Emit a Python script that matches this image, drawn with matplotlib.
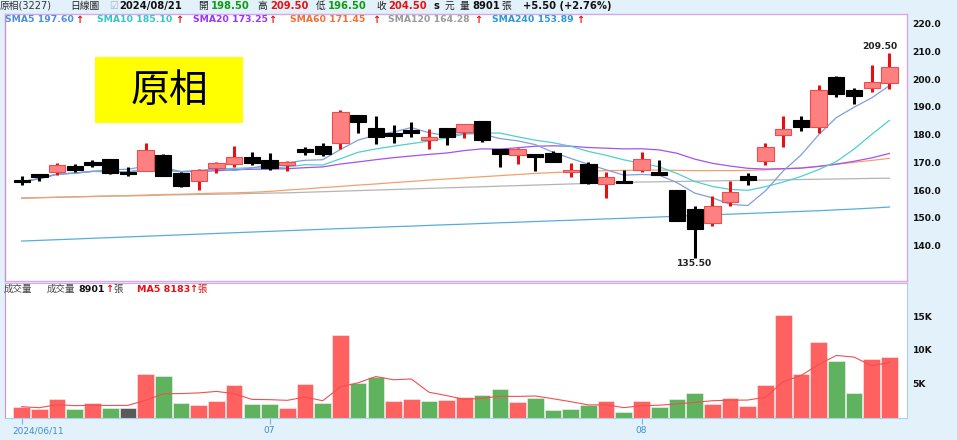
import numpy as np
import pandas as pd
import matplotlib
matplotlib.use("Agg")
import matplotlib.pyplot as plt
from matplotlib.patches import Rectangle

# ---------------- data ----------------
opens = [163.5, 165.3, 166.4, 168.8, 169.6, 171.1, 166.3, 167.0, 172.6, 166.0,
         163.2, 167.8, 169.4, 172.0, 170.8, 169.0, 174.3, 176.0, 176.9, 187.1,
         182.3, 180.2, 181.5, 178.5, 182.3, 180.8, 184.9, 174.8, 172.6, 172.8,
         173.5, 166.7, 169.4, 162.1, 163.0, 167.2, 166.0, 160.0, 153.0, 148.0,
         155.8, 165.1, 170.6, 179.9, 185.3, 182.6, 200.9, 196.1, 196.9, 198.5]
highs = [165.0, 165.5, 169.6, 169.4, 170.8, 171.3, 168.2, 177.1, 173.1, 166.6,
         167.5, 170.2, 176.0, 173.6, 173.5, 170.6, 175.6, 176.9, 188.9, 187.2,
         186.8, 183.5, 184.7, 181.9, 182.5, 184.0, 185.0, 174.9, 175.1, 172.9,
         174.1, 169.6, 170.0, 166.4, 167.2, 173.8, 170.8, 160.0, 154.3, 157.8,
         163.4, 166.0, 176.9, 186.7, 186.7, 197.9, 201.0, 196.7, 205.1, 209.5]
lows = [162.0, 163.4, 165.4, 166.4, 168.4, 165.8, 165.2, 166.8, 165.0, 161.0,
        160.0, 166.0, 168.4, 169.0, 167.2, 167.0, 172.6, 172.4, 174.7, 180.5,
        176.5, 177.1, 179.2, 174.7, 176.2, 178.9, 177.4, 168.4, 169.4, 167.0,
        170.0, 164.8, 162.1, 157.0, 162.6, 166.4, 165.5, 148.9, 135.5, 147.0,
        154.3, 161.8, 169.0, 175.4, 181.4, 180.5, 193.5, 190.9, 195.3, 196.5]
closes = [163.0, 165.2, 169.0, 167.2, 169.3, 166.0, 166.0, 174.4, 165.2, 161.4,
          167.2, 169.6, 172.0, 169.6, 167.8, 170.2, 174.1, 173.0, 188.1, 184.7,
          179.2, 179.7, 181.0, 178.8, 179.2, 183.8, 178.1, 173.0, 174.7, 172.4,
          170.0, 167.0, 162.4, 164.8, 162.8, 171.1, 165.8, 148.9, 145.9, 154.3,
          159.4, 163.6, 175.4, 181.9, 182.6, 196.1, 194.7, 194.0, 199.0, 204.5]
volumes = [1600, 1300, 2800, 1300, 2100, 1400, 1400, 6500, 6200, 2200,
           1900, 2500, 4800, 2000, 2000, 1400, 4900, 2100, 12200, 5100,
           6000, 2500, 2700, 2400, 2600, 3100, 3400, 4200, 2300, 2900,
           1100, 1200, 1800, 2400, 800, 2500, 1600, 2700, 3600, 2000,
           2900, 1700, 4800, 15100, 6500, 11100, 8400, 3600, 8700, 8901]
sma60 = [157.0, 157.2, 157.4, 157.5, 157.7, 157.9, 158.0, 158.2, 158.4, 158.5,
         158.7, 158.9, 159.0, 159.2, 159.5, 160.0, 160.4, 160.9, 161.3, 161.8,
         162.2, 162.7, 163.1, 163.6, 164.0, 164.4, 164.8, 165.2, 165.6, 166.0,
         166.3, 166.6, 166.8, 167.0, 167.1, 167.2, 167.2, 167.1, 167.0, 167.0,
         167.0, 167.1, 167.3, 167.6, 168.0, 168.6, 169.3, 170.0, 170.7, 171.45]
sma120 = [157.2, 157.3, 157.4, 157.6, 157.7, 157.8, 157.9, 158.0, 158.2, 158.3,
          158.4, 158.5, 158.6, 158.8, 158.9, 159.0, 159.2, 159.4, 159.6, 159.8,
          160.0, 160.2, 160.4, 160.6, 160.8, 161.0, 161.2, 161.4, 161.6, 161.8,
          162.0, 162.2, 162.4, 162.6, 162.8, 162.9, 163.0, 163.1, 163.2, 163.3,
          163.4, 163.5, 163.6, 163.7, 163.8, 163.9, 164.0, 164.1, 164.2, 164.28]
sma240 = [141.6, 141.85, 142.1, 142.35, 142.6, 142.85, 143.1, 143.35, 143.6, 143.85,
          144.1, 144.35, 144.6, 144.85, 145.1, 145.35, 145.6, 145.85, 146.1, 146.3,
          146.55, 146.8, 147.0, 147.25, 147.5, 147.7, 147.95, 148.2, 148.4, 148.65,
          148.9, 149.1, 149.35, 149.6, 149.8, 150.05, 150.3, 150.55, 150.8, 151.05,
          151.3, 151.55, 151.8, 152.05, 152.3, 152.55, 152.85, 153.15, 153.5, 153.89]
price_ticks = [140, 150, 160, 170, 180, 190, 200, 210, 220]
vol_ticks = [5000, 10000, 15000]
vol_tick_labels = ["5K", "10K", "15K"]
date_tick_idx = [0, 14, 35]
date_tick_labels = ["2024/06/11", "07", "08"]
legend_names = ["SMA5", "SMA10", "SMA20", "SMA60", "SMA120", "SMA240"]
legend_values = ["197.60", "185.10", "173.25", "171.45", "164.28", "153.89"]

# ---------------- figure ----------------
W, H = 957, 440
fig = plt.figure(figsize=(W / 100, H / 100), dpi=100)
BG = "#e3f1fb"
fig.patch.set_facecolor(BG)
CJK = ["DejaVu Sans", "Noto Sans CJK TC"]


def fx(x):
    return x / W


def fy(y):
    return 1 - y / H


def T(x, y, s, color="#222222", size=7, weight="normal", family=None, ha="left"):
    fig.text(fx(x), fy(y), s, color=color, fontsize=size, fontweight=weight,
             family=family or CJK, ha=ha, va="center")


L, R = 5, 907
ax = fig.add_axes([fx(L), fy(281), fx(R) - fx(L), fy(14) - fy(281)])
axv = fig.add_axes([fx(L), fy(417.5), fx(R) - fx(L), fy(283) - fy(417.5)])

n = len(closes)
x = np.arange(n)
o = np.array(opens); c = np.array(closes); h = np.array(highs); lo = np.array(lows)
up = c >= o

# moving averages from closes
cs = pd.Series(closes)
sma5 = cs.rolling(5, min_periods=1).mean()
sma10 = cs.rolling(10, min_periods=1).mean()
sma20 = cs.rolling(20, min_periods=1).mean()

line_cols = ["#7f9fdc", "#4fcfcf", "#a552ee", "#f3a06e", "#b4b4b4", "#56aedc"]
for series, col in zip([sma240, sma120, sma60, sma20, sma10, sma5], line_cols[::-1]):
    ax.plot(x, series, color=col, lw=0.9, zorder=2)

# candles
bw = 0.92
for i in range(n):
    if up[i]:
        wick, face, edge = "#e61010", "#ff8080", "#e85050"
    else:
        wick, face, edge = "#000000", "#000000", "#000000"
    ax.vlines(x[i], lo[i], h[i], color=wick, lw=2.2, zorder=3)
    bot = min(o[i], c[i])
    hh = max(abs(c[i] - o[i]), 1.0)
    if abs(c[i] - o[i]) < 1.0:
        bot = (o[i] + c[i]) / 2 - 0.5
    ax.bar(x[i], hh, bottom=bot, width=bw, color=face, edgecolor=edge,
           linewidth=0.8, zorder=4)

ax.set_xlim(-0.94, 49.99)
ax.set_ylim(127.2, 223.5)
ax.yaxis.tick_right()
ax.set_yticks(price_ticks)
ax.set_yticklabels([f"{v:.1f}" for v in price_ticks])
ax.tick_params(axis="y", length=0, pad=4, labelsize=6.6, labelcolor="#111111")
for lab in ax.get_yticklabels():
    lab.set_fontweight("bold")
ax.set_xticks([])
for s in ["top", "right", "bottom"]:
    ax.spines[s].set_color("#d6a8e6")
ax.spines["left"].set_color("#cf8fcf")
for s in ax.spines.values():
    s.set_linewidth(1.0)

# high / low annotations
imax = int(np.argmax(h)); imin = int(np.argmin(lo))
ax.annotate(f"{h[imax]:.2f}", xy=(x[imax], h[imax]), xytext=(-10, 6),
            textcoords="offset pixels", ha="center", va="center",
            fontsize=6.6, fontweight="bold", color="#222222")
ax.annotate(f"{lo[imin]:.2f}", xy=(x[imin], lo[imin]), xytext=(0, -6),
            textcoords="offset pixels", ha="center", va="center",
            fontsize=6.6, fontweight="bold", color="#222222")

# volume
v = np.array(volumes, dtype=float)
prev = np.concatenate([[c[0] - 1], c[:-1]])
vcols = np.where(c > prev, "#ff6161", np.where(c < prev, "#5fb35f", "#5a5a5a"))
axv.bar(x, v, width=0.94, color=vcols, edgecolor="#f4f4f4", linewidth=0.4, zorder=2)
ma5v = pd.Series(volumes).rolling(5, min_periods=1).mean()
axv.plot(x, ma5v, color="#f05050", lw=0.8, zorder=3)
axv.set_xlim(-0.94, 49.99)
axv.set_ylim(0, 19900)
axv.yaxis.tick_right()
axv.set_yticks(vol_ticks)
axv.set_yticklabels(vol_tick_labels)
axv.tick_params(axis="y", length=0, pad=4, labelsize=6.6, labelcolor="#111111")
for lab in axv.get_yticklabels():
    lab.set_fontweight("bold")
axv.set_xticks(date_tick_idx)
axv.set_xticklabels([])
axv.tick_params(axis="x", length=4, width=0.8, color="#7ab4e0", direction="out")
for idx, lab in zip(date_tick_idx, date_tick_labels):
    dx = -9 if idx == 0 else 0
    axv.annotate(lab, xy=(idx, 0), xycoords=("data", "axes fraction"),
                 xytext=(dx, -13), textcoords="offset pixels",
                 ha="left" if idx == 0 else "center", va="center",
                 fontsize=6.5, color="#3a8fd0")
axv.spines["left"].set_color("#cf8fcf")
axv.spines["top"].set_color("#d6a8e6")
axv.spines["right"].set_color("#a8d0ee")
axv.spines["bottom"].set_color("#a8d0ee")

# yellow label box
fig.patches.append(Rectangle((fx(95), fy(123)), fx(243) - fx(95), fy(57) - fy(123),
                             transform=fig.transFigure, facecolor="#ffff00",
                             edgecolor="none", zorder=5))
fig.text(fx(169), fy(91), "原相", fontsize=28, family=["Noto Sans CJK TC"],
         color="#000000", ha="center", va="center", zorder=6)

# header
hy = 6
T(0, hy, "原相(3227)", "#333333", 7)
T(70, hy, "日線圖", "#222222", 7)
T(109, hy, "☑", "#9fb8d0", 7)
T(119, hy, "2024/08/21", "#111111", 7.2, "bold")
T(198, hy, "開", "#222222", 7)
T(211, hy, "198.50", "#119a11", 7.2, "bold")
T(257, hy, "高", "#222222", 7)
T(270, hy, "209.50", "#e81111", 7.2, "bold")
T(316, hy, "低", "#222222", 7)
T(328, hy, "196.50", "#119a11", 7.2, "bold")
T(376, hy, "收", "#222222", 7)
T(388, hy, "204.50", "#e81111", 7.2, "bold")
T(433, hy, "s", "#111111", 7.2, "bold")
T(445, hy, "元", "#222222", 7)
T(460, hy, "量", "#222222", 7)
T(472, hy, "8901", "#111111", 7.2, "bold")
T(501, hy, "張", "#222222", 7)
T(523, hy, "+5.50 (+2.76%)", "#111111", 7.2, "bold")

# SMA legend
leg_x = [5, 97, 193, 290, 388, 492]
arrow_x = [75, 175, 268, 372, 474, 576]
leg_cols = ["#4a8fe0", "#33c6c6", "#9933ff", "#f07030", "#9a9a9a", "#2b9ad6"]
for lx, axx, nm, val, col in zip(leg_x, arrow_x, legend_names, legend_values, leg_cols):
    T(lx, 20, f"{nm} {val}", col, 6.7, "bold")
    T(axx, 20, "↑", "#e81111", 7, "bold")

# volume legend
T(4, 289, "成交量", "#444444", 6.8)
T(47, 289, "成交量", "#444444", 6.8)
T(78, 289, "8901", "#111111", 6.8, "bold")
T(105, 289, "↑", "#e81111", 7, "bold")
T(113, 289, "張", "#444444", 6.8)
T(137, 289, "MA5 8183", "#e81111", 6.8, "bold")
T(189, 289, "↑", "#e81111", 7, "bold")
T(197, 289, "張", "#e81111", 6.8)

fig.savefig("out.png", dpi=100, facecolor=fig.get_facecolor())
